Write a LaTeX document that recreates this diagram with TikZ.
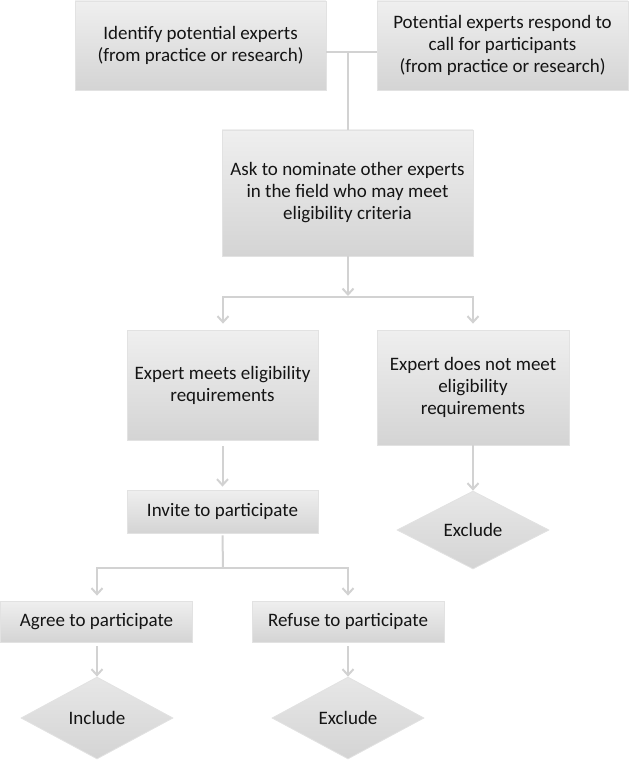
\documentclass[tikz,border=0pt]{standalone}
\usepackage{fontspec}
\setmainfont{Carlito}
\usetikzlibrary{shapes.geometric,arrows.meta,calc}
\definecolor{boxtop}{HTML}{EFEFEF}
\definecolor{boxbot}{HTML}{D4D4D4}
\definecolor{boxedge}{HTML}{E2E2E2}
\definecolor{linec}{HTML}{D2D2D2}
\definecolor{txt}{HTML}{141414}
\tikzset{
  box/.style={rectangle, draw=boxedge, line width=0.8pt, top color=boxtop, bottom color=boxbot,
    text=txt, align=center, inner sep=2pt, font=\fontsize{19}{22}\selectfont},
  dia/.style={diamond, draw=boxedge, line width=0.8pt, top color=boxtop!70!boxbot, bottom color=boxbot,
    text=txt, align=center, inner sep=0pt, font=\fontsize{19}{22}\selectfont},
  conn/.style={draw=linec, line width=2pt},
  arr/.style={conn, -{Straight Barb[length=6pt,width=11pt,line width=2pt]}},
}
\begin{document}
\begin{tikzpicture}[x=1pt,y=1pt]
\useasboundingbox (0,0) rectangle (629,-762);
\node[box, minimum width=251pt, minimum height=89pt] (b1) at (200.5,-45.5) {Identify potential experts\\(from practice or research)};
\node[box, minimum width=251pt, minimum height=89pt] (b2) at (502.5,-45.5) {Potential experts respond to\\call for participants\\(from practice or research)};
\node[box, minimum width=251pt, minimum height=126pt] (b3) at (347.5,-193) {Ask to nominate other experts\\in the field who may meet\\eligibility criteria};
\node[box, minimum width=191pt, minimum height=110pt] (b4) at (222.5,-385) {Expert meets eligibility\\requirements};
\node[box, minimum width=192pt, minimum height=115pt] (b5) at (473,-387.5) {Expert does not meet\\eligibility\\requirements};
\node[dia, minimum width=152pt, minimum height=78pt] (d5) at (473,-530) {Exclude};
\node[box, minimum width=191pt, minimum height=43pt] (inv) at (222.5,-511.5) {Invite to participate};
\node[box, minimum width=192pt, minimum height=41pt] (agr) at (96.5,-621.5) {Agree to participate};
\node[box, minimum width=192pt, minimum height=41pt] (ref) at (348,-621.5) {Refuse to participate};
\node[dia, minimum width=152pt, minimum height=82pt] (inc) at (97,-718) {Include};
\node[dia, minimum width=152pt, minimum height=82pt] (exc) at (348,-718) {Exclude};

\coordinate (j1) at (348,-52);
\coordinate (j2) at (348,-297);
\coordinate (j2l) at (223,-297);
\coordinate (j2r) at (473,-297);
\coordinate (j3) at (223,-568);
\coordinate (j3l) at (97,-568);
\coordinate (j3r) at (348,-568);

\draw[conn] (b1.east |- j1) -- (b2.west |- j1);
\draw[conn] (j1) -- (j1 |- b3.north);
\draw[arr] (b3.south -| j2) -- ([yshift=1pt]j2);
\draw[conn] (j2l) -- (j2r);
\draw[arr] ([yshift=1pt]j2l) -- ([yshift=6pt]j2l |- b4.north);
\draw[arr] ([yshift=1pt]j2r) -- ([yshift=6pt]j2r |- b5.north);
\draw[arr] ([yshift=-6pt]b4.south) -- ([yshift=3pt]inv.north);
\draw[conn] ([yshift=-2pt]inv.south) -- (j3);
\draw[conn] (j3l) -- (j3r);
\draw[arr] ([yshift=1pt]j3l) -- ([yshift=5pt]j3l |- agr.north);
\draw[arr] ([yshift=1pt]j3r) -- ([yshift=5pt]j3r |- ref.north);
\draw[arr] (b5.south) -- (d5.north);
\draw[arr] ([yshift=-4pt]agr.south -| inc.north) -- (inc.north);
\draw[arr] ([yshift=-4pt]ref.south -| exc.north) -- (exc.north);
\end{tikzpicture}
\end{document}
